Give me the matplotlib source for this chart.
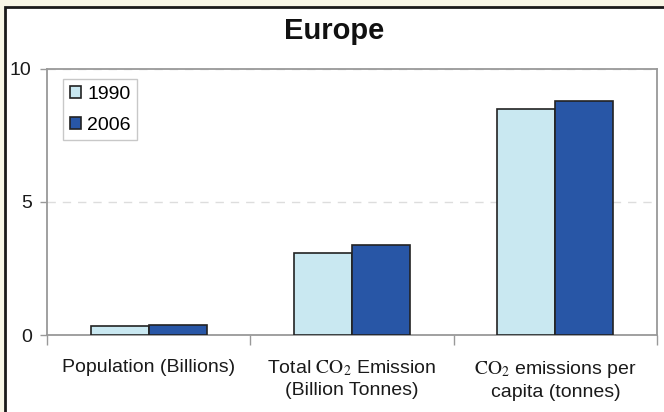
import numpy as np
import matplotlib
matplotlib.use("Agg")
import matplotlib.pyplot as plt
from matplotlib.patches import Rectangle

plt.rcParams['font.family'] = ['Liberation Sans', 'DejaVu Sans']
plt.rcParams['mathtext.fontset'] = 'stix'

# data
categories = ["Population (Billions)",
              "Total $\\mathrm{CO_2}$ Emission\n(Billion Tonnes)",
              "$\\mathrm{CO_2}$ emissions per\ncapita (tonnes)"]
years = ["1990", "2006"]
values_1990 = [0.34, 3.07, 8.5]
values_2006 = [0.37, 3.37, 8.8]
yticks = [0, 5, 10]

colors = ["#C9E8F1", "#2856A6"]

fig = plt.figure(figsize=(6.64, 4.12), dpi=100)
fig.patch.set_facecolor("#F8F6E6")
# white chart frame with dark border
fig.patches.append(Rectangle((5 / 664, -0.1), 1.1, 1 - 7 / 412 + 0.1,
                             transform=fig.transFigure, facecolor="white",
                             edgecolor="#1a1a1a", linewidth=2.0, zorder=-10))

ax = fig.add_axes([47 / 664, 1 - 335 / 412, 610 / 664, 266 / 412])
ax.set_facecolor("white")

x = np.arange(len(categories))
w = 0.285
ax.bar(x - w / 2, values_1990, w, color=colors[0], edgecolor="#222222", linewidth=1.2, label=years[0], zorder=3)
ax.bar(x + w / 2, values_2006, w, color=colors[1], edgecolor="#222222", linewidth=1.2, label=years[1], zorder=3)

ax.set_xlim(-0.5, 2.5)
ax.set_ylim(0, 10)
ax.set_yticks(yticks)
ax.set_yticklabels([str(t) for t in yticks], fontsize=14, color="#1a1a1a")
ax.tick_params(axis="y", length=5, width=1, color="#999999", pad=6)

ax.set_xticks(x)
ax.set_xticklabels(categories, fontsize=14, color="#1a1a1a", linespacing=1.3)
ax.set_xticks([-0.5, 0.5, 1.5, 2.5], minor=True)
ax.tick_params(axis="x", which="major", length=0, pad=17)
ax.tick_params(axis="x", which="minor", length=7, width=1, color="#999999")

ax.yaxis.grid(True, linestyle=(0, (6, 5)), color="#DDDDDD", linewidth=1)
ax.set_axisbelow(True)
for s in ax.spines.values():
    s.set_color("#999999")
    s.set_linewidth(1.3)

leg = ax.legend(loc="upper left", bbox_to_anchor=(0.026, 0.962), borderaxespad=0,
                fontsize=14, frameon=True, fancybox=False, handlelength=0.6,
                handleheight=0.6, handletextpad=0.3, labelspacing=0.7,
                borderpad=0.35)
leg.get_frame().set_edgecolor("#BBBBBB")
leg.get_frame().set_linewidth(1)

fig.text(334 / 664, 1 - 31 / 412, "Europe", fontsize=21, fontweight="bold",
         ha="center", va="center", color="#111111")

fig.savefig("out.png", dpi=100)
